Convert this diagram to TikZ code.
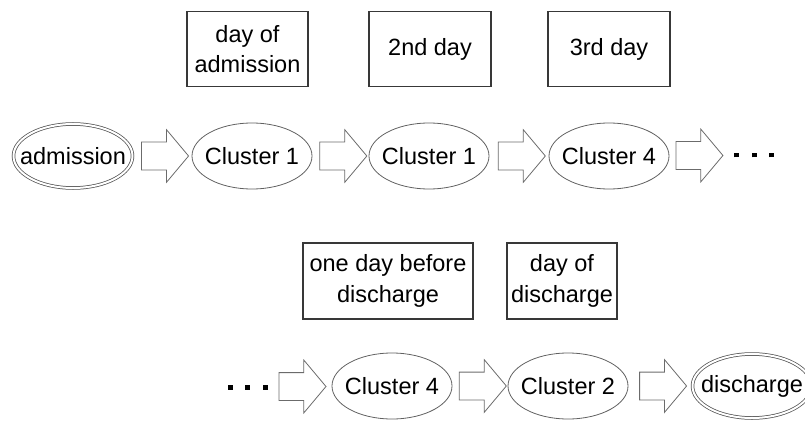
\documentclass[tikz,border=0pt]{standalone}
\usepackage{fontspec}
\setmainfont{Liberation Sans}
\usetikzlibrary{shapes.geometric,shapes.arrows,calc}

\begin{document}
\begin{tikzpicture}[x=1pt,y=1pt,
  every node/.style={font=\fontsize{23.5}{30.5}\selectfont, text=black},
  state/.style={ellipse, draw=black!62, line width=0.8pt,
    minimum width=120pt, minimum height=66pt, inner xsep=-15pt, inner ysep=0pt},
  endstate/.style={state, draw=black!68, double=white, double distance=2pt,
    line width=0.75pt, minimum width=119pt, minimum height=64pt},
  daybox/.style={rectangle, draw=black!78, line width=1.1pt, align=center,
    minimum width=122pt, minimum height=75pt, inner sep=0pt},
  blockarrow/.style={single arrow, draw=black!58, line width=0.8pt,
    minimum height=47pt, minimum width=52pt, inner xsep=0pt, inner ysep=13.5pt,
    single arrow head extend=12.5pt, single arrow tip angle=100, xshift=-3pt},
  ellipsis/.style={inner sep=0pt}
]
\useasboundingbox (0,0) rectangle (805,421);

% first row: stay from admission onwards
\node[endstate] (adm) at (73,265) {admission};
\node[state] (c1a) at (252,265) {Cluster 1};
\node[state] (c1b) at (429,265) {Cluster 1};
\node[state] (c4a) at (609,265) {Cluster 4};
\node[ellipsis] (dotsA) at (754,266)
  {\rule{5pt}{5pt}\hspace{12.5pt}\rule{5pt}{5pt}\hspace{12.5pt}\rule{5pt}{5pt}};

\node[blockarrow] (a1) at ($(adm.east)!0.5!(c1a.west)$) {};
\node[blockarrow] (a2) at ($(c1a.east)!0.5!(c1b.west)$) {};
\node[blockarrow] (a3) at ($(c1b.east)!0.5!(c4a.west)$) {};
\node[blockarrow, xshift=-5pt] (a4) at ($(c4a.east)!0.5!(dotsA.west)$) {};

% day labels of the first row
\node[daybox, minimum width=121pt] (dayAdm) at (247.5,372) {day of\\admission};
\node[daybox] (day2) at (430,372) {2nd day};
\node[daybox] (day3) at (609,372) {3rd day};

% second row: last days up to discharge
\node[ellipsis] (dotsB) at (247.5,34)
  {\rule{5pt}{5pt}\hspace{12.5pt}\rule{5pt}{5pt}\hspace{12.5pt}\rule{5pt}{5pt}};
\node[state] (c4b) at (392,35) {Cluster 4};
\node[state] (c2) at (568,35) {Cluster 2};
\node[endstate] (dis) at (752,35) {discharge};

\node[blockarrow] (b1) at ($(dotsB.east)!0.5!(c4b.west)$) {};
\node[blockarrow] (b2) at ($(c4b.east)!0.5!(c2.west)$) {};
\node[blockarrow] (b3) at ($(c2.east)!0.5!(dis.west)$) {};

% day labels of the second row
\node[daybox, minimum width=170pt, minimum height=76pt] (dayBefore) at (388,140)
  {one day before\\discharge};
\node[daybox, minimum width=110pt, minimum height=76pt] (dayDis) at (562,140)
  {day of\\discharge};
\end{tikzpicture}
\end{document}
